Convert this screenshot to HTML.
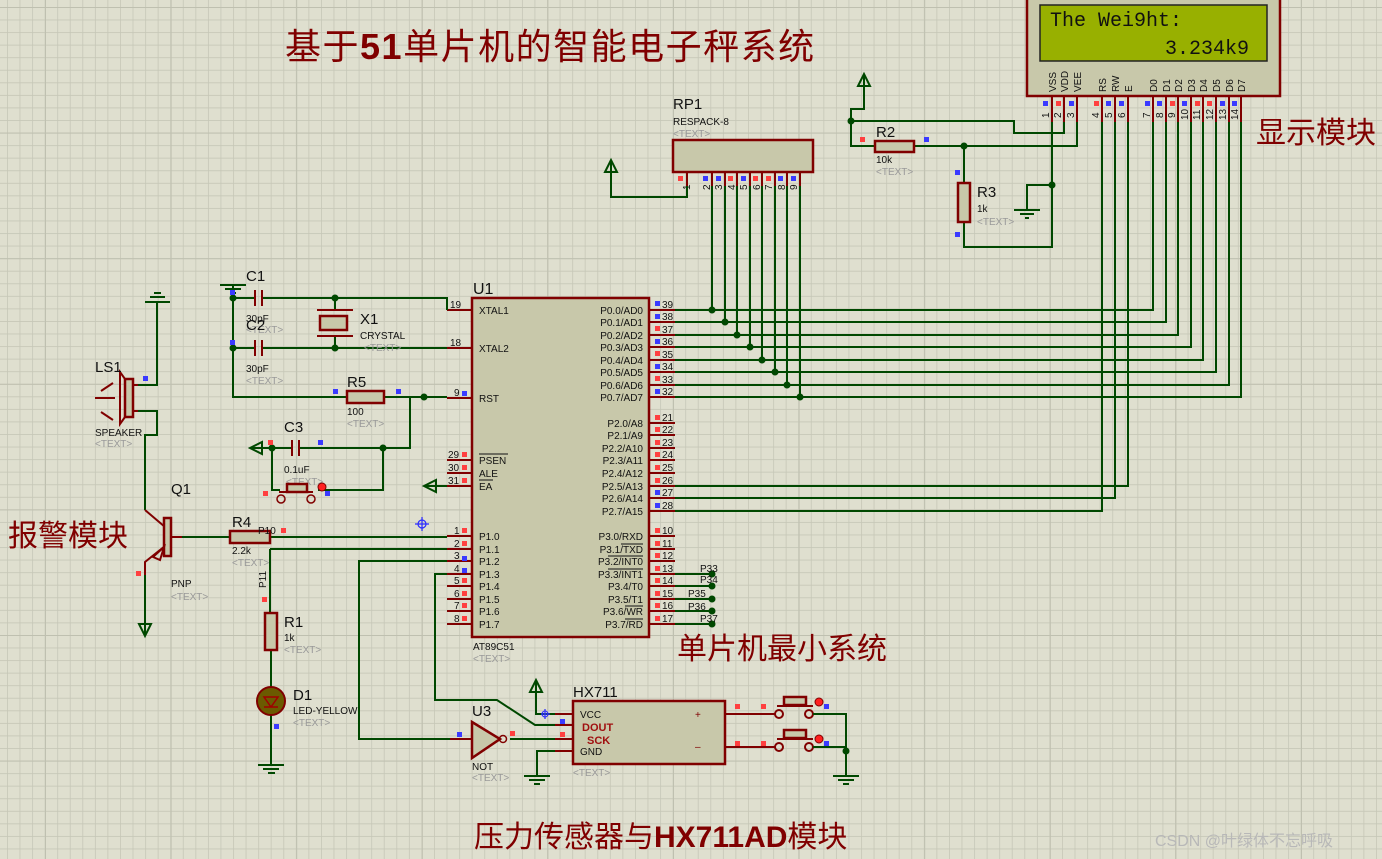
<!DOCTYPE html>
<html><head><meta charset="utf-8"><style>
html,body{margin:0;padding:0;background:#dfdfcf}
svg{display:block}
text{font-family:"Liberation Sans","Noto Sans CJK SC",sans-serif}
.t{font-size:10px;fill:#111}
.g{font-size:10px;fill:#999}
.L{font-size:15px;fill:#111}
.cn{fill:#800000;font-family:"Liberation Sans","Noto Sans CJK SC",sans-serif}
.mono{font-family:"Liberation Mono",monospace;font-size:20px;fill:#111}
.w{stroke:#004800;stroke-width:2;fill:none}
.p{stroke:#800000;stroke-width:2;fill:none}
.b{stroke:#800000;stroke-width:2.5;fill:#c8c8aa}
.d{fill:#004800}
.r{fill:#ff4040}.u{fill:#3a3aff}
</style></head><body>
<svg width="1382" height="859" viewBox="0 0 1382 859" xmlns="http://www.w3.org/2000/svg">
<defs>
<pattern id="gm" x="7" y="7" width="12.56" height="12.56" patternUnits="userSpaceOnUse"><path d="M0 0H12.56M0 0V12.56" stroke="#c6c7b7" stroke-width="1.6"/></pattern>
<pattern id="gM" x="45" y="7" width="125.6" height="125.6" patternUnits="userSpaceOnUse"><path d="M0 0H125.6M0 0V125.6" stroke="#bfc0b0" stroke-width="2"/></pattern>
</defs>
<rect width="1382" height="859" fill="#dfdfcf"/>
<rect width="1382" height="859" fill="url(#gm)"/>
<rect width="1382" height="859" fill="url(#gM)"/>

<!-- titles -->
<text x="285" y="59" class="cn" font-size="36" letter-spacing="1.5">基于<tspan font-weight="bold">51</tspan>单片机的智能电子秤系统</text>
<text x="1256" y="143" class="cn" font-size="30">显示模块</text>
<text x="8" y="546" class="cn" font-size="30">报警模块</text>
<text x="677" y="659" class="cn" font-size="30">单片机最小系统</text>
<text x="474" y="847" class="cn" font-size="30">压力传感器与<tspan font-weight="bold">HX711AD</tspan>模块</text>
<text x="1155" y="846" font-size="16" fill="#b8b8b8">CSDN @叶绿体不忘呼吸</text>

<!-- LCD -->
<rect x="1027" y="-5" width="253" height="101" class="b"/>
<rect x="1040" y="5" width="227" height="56" fill="#98b000" stroke="#222" stroke-width="1.5"/>
<text x="1050" y="26" class="mono">The Wei9ht:</text>
<text x="1165" y="54" class="mono">3.234k9</text>
<g font-size="10" fill="#111">
<text transform="translate(1056,92) rotate(-90)">VSS</text><text transform="translate(1068,92) rotate(-90)">VDD</text><text transform="translate(1081,92) rotate(-90)">VEE</text>
<text transform="translate(1106,92) rotate(-90)">RS</text><text transform="translate(1119,92) rotate(-90)">RW</text><text transform="translate(1132,92) rotate(-90)">E</text>
<text transform="translate(1157,92) rotate(-90)">D0</text><text transform="translate(1170,92) rotate(-90)">D1</text><text transform="translate(1182,92) rotate(-90)">D2</text><text transform="translate(1195,92) rotate(-90)">D3</text><text transform="translate(1207,92) rotate(-90)">D4</text><text transform="translate(1220,92) rotate(-90)">D5</text><text transform="translate(1233,92) rotate(-90)">D6</text><text transform="translate(1245,92) rotate(-90)">D7</text>
<text transform="translate(1049,118) rotate(-90)">1</text><text transform="translate(1061,118) rotate(-90)">2</text><text transform="translate(1074,118) rotate(-90)">3</text><text transform="translate(1099,118) rotate(-90)">4</text><text transform="translate(1112,118) rotate(-90)">5</text><text transform="translate(1125,118) rotate(-90)">6</text><text transform="translate(1150,118) rotate(-90)">7</text><text transform="translate(1163,118) rotate(-90)">8</text><text transform="translate(1175,118) rotate(-90)">9</text><text transform="translate(1188,120) rotate(-90)">10</text><text transform="translate(1200,120) rotate(-90)">11</text><text transform="translate(1213,120) rotate(-90)">12</text><text transform="translate(1226,120) rotate(-90)">13</text><text transform="translate(1238,120) rotate(-90)">14</text>
</g>
<path class="p" d="M1052 96V122M1064 96V122M1077 96V122M1102 96V122M1115 96V122M1128 96V122M1153 96V122M1166 96V122M1178 96V122M1191 96V122M1203 96V122M1216 96V122M1229 96V122M1241 96V122"/>
<g class="u"><rect x="1043" y="101" width="5" height="5"/><rect x="1069" y="101" width="5" height="5"/><rect x="1106" y="101" width="5" height="5"/><rect x="1119" y="101" width="5" height="5"/><rect x="1145" y="101" width="5" height="5"/><rect x="1157" y="101" width="5" height="5"/><rect x="1182" y="101" width="5" height="5"/><rect x="1220" y="101" width="5" height="5"/><rect x="1232" y="101" width="5" height="5"/></g>
<g class="r"><rect x="1056" y="101" width="5" height="5"/><rect x="1094" y="101" width="5" height="5"/><rect x="1170" y="101" width="5" height="5"/><rect x="1195" y="101" width="5" height="5"/><rect x="1207" y="101" width="5" height="5"/></g>

<!-- LCD data wires -->
<path class="w" d="M675 310H1153V122M675 322H1166V122M675 335H1178V122M675 347H1191V122M675 360H1203V122M675 372H1216V122M675 385H1229V122M675 397H1241V122"/>
<path class="w" d="M675 486H1128V122M675 498H1115V122M675 511H1102V122"/>

<!-- RP1 -->
<text x="673" y="109" class="L">RP1</text><text x="673" y="125" class="t">RESPACK-8</text><text x="673" y="137" class="g">&lt;TEXT&gt;</text>
<rect x="673" y="140" width="140" height="32" class="b"/>
<path class="p" d="M687 172V186M712 172V186M725 172V186M737 172V186M750 172V186M762 172V186M775 172V186M787 172V186M800 172V186"/>
<g font-size="10" fill="#111"><text transform="translate(690,190) rotate(-90)">1</text><text transform="translate(710,190) rotate(-90)">2</text><text transform="translate(722,190) rotate(-90)">3</text><text transform="translate(735,190) rotate(-90)">4</text><text transform="translate(747,190) rotate(-90)">5</text><text transform="translate(760,190) rotate(-90)">6</text><text transform="translate(772,190) rotate(-90)">7</text><text transform="translate(785,190) rotate(-90)">8</text><text transform="translate(797,190) rotate(-90)">9</text></g>
<g class="r"><rect x="678" y="176" width="5" height="5"/><rect x="728" y="176" width="5" height="5"/><rect x="753" y="176" width="5" height="5"/><rect x="766" y="176" width="5" height="5"/></g>
<g class="u"><rect x="703" y="176" width="5" height="5"/><rect x="716" y="176" width="5" height="5"/><rect x="741" y="176" width="5" height="5"/><rect x="778" y="176" width="5" height="5"/><rect x="791" y="176" width="5" height="5"/></g>
<path class="w" d="M712 186V310M725 186V322M737 186V335M750 186V347M762 186V360M775 186V372M787 186V385M800 186V397"/>
<path class="w" d="M687 186V197H611V160"/>
<path class="w" d="M605 172L611 160L617 172Z"/>
<g class="d"><circle cx="712" cy="310" r="3.5"/><circle cx="725" cy="322" r="3.5"/><circle cx="737" cy="335" r="3.5"/><circle cx="750" cy="347" r="3.5"/><circle cx="762" cy="360" r="3.5"/><circle cx="775" cy="372" r="3.5"/><circle cx="787" cy="385" r="3.5"/><circle cx="800" cy="397" r="3.5"/></g>

<!-- R2 R3 -->
<path class="w" d="M864 74V109H851V146H875M851 121H1014V133H1064V122M914 146H1077V122M964 146V183M964 222V247H1052V122M1052 185H1027V210"/>
<path class="w" d="M858 86L864 74L870 86Z"/>
<path class="w" d="M1014 210H1040M1020 214H1034M1025 218H1029"/>
<rect x="875" y="141" width="39" height="11" class="b"/>
<rect x="958" y="183" width="12" height="39" class="b"/>
<g class="d"><circle cx="851" cy="121" r="3.5"/><circle cx="964" cy="146" r="3.5"/><circle cx="1052" cy="185" r="3.5"/></g>
<text x="876" y="137" class="L">R2</text><text x="876" y="163" class="t">10k</text><text x="876" y="175" class="g">&lt;TEXT&gt;</text>
<text x="977" y="197" class="L">R3</text><text x="977" y="212" class="t">1k</text><text x="977" y="225" class="g">&lt;TEXT&gt;</text>
<rect x="860" y="137" width="5" height="5" class="r"/><rect x="924" y="137" width="5" height="5" class="u"/>
<rect x="955" y="170" width="5" height="5" class="u"/><rect x="955" y="232" width="5" height="5" class="u"/>

<!-- U1 -->
<text x="473" y="294" font-size="16" fill="#111">U1</text>
<rect x="472" y="298" width="177" height="339" class="b"/>
<text x="473" y="650" class="t">AT89C51</text><text x="473" y="662" class="g">&lt;TEXT&gt;</text>
<path class="p" d="M649 310H675M649 322H675M649 335H675M649 347H675M649 360H675M649 372H675M649 385H675M649 397H675M649 423H675M649 435H675M649 448H675M649 460H675M649 473H675M649 486H675M649 498H675M649 511H675M649 536H675M649 549H675M649 561H675M649 574H675M649 586H675M649 599H675M649 611H675M649 624H675"/>
<path class="p" d="M447 310H472M447 348H472M447 398H472M447 460H472M447 473H472M447 486H472M447 536H472M447 549H472M447 561H472M447 574H472M447 586H472M447 599H472M447 611H472M447 624H472"/>
<g font-size="10" fill="#111" text-anchor="end">
<text x="643" y="314">P0.0/AD0</text><text x="643" y="326">P0.1/AD1</text><text x="643" y="339">P0.2/AD2</text><text x="643" y="351">P0.3/AD3</text><text x="643" y="364">P0.4/AD4</text><text x="643" y="376">P0.5/AD5</text><text x="643" y="389">P0.6/AD6</text><text x="643" y="401">P0.7/AD7</text>
<text x="643" y="427">P2.0/A8</text><text x="643" y="439">P2.1/A9</text><text x="643" y="452">P2.2/A10</text><text x="643" y="464">P2.3/A11</text><text x="643" y="477">P2.4/A12</text><text x="643" y="490">P2.5/A13</text><text x="643" y="502">P2.6/A14</text><text x="643" y="515">P2.7/A15</text>
<text x="643" y="540">P3.0/RXD</text><text x="643" y="553">P3.1/TXD</text><text x="643" y="565">P3.2/INT0</text><text x="643" y="578">P3.3/INT1</text><text x="643" y="590">P3.4/T0</text><text x="643" y="603">P3.5/T1</text><text x="643" y="615">P3.6/WR</text><text x="643" y="628">P3.7/RD</text>
</g>
<path d="M621 544H643M608 556H643M608 569H643M625 606H643M625 619H643" stroke="#111" stroke-width="1"/>
<path d="M479 454H508M479 480H493" stroke="#111" stroke-width="1"/>
<g font-size="10" fill="#111">
<text x="479" y="314">XTAL1</text><text x="479" y="352">XTAL2</text><text x="479" y="402">RST</text><text x="479" y="464">PSEN</text><text x="479" y="477">ALE</text><text x="479" y="490">EA</text>
<text x="479" y="540">P1.0</text><text x="479" y="553">P1.1</text><text x="479" y="565">P1.2</text><text x="479" y="578">P1.3</text><text x="479" y="590">P1.4</text><text x="479" y="603">P1.5</text><text x="479" y="615">P1.6</text><text x="479" y="628">P1.7</text>
<text x="662" y="308">39</text><text x="662" y="320">38</text><text x="662" y="333">37</text><text x="662" y="345">36</text><text x="662" y="358">35</text><text x="662" y="370">34</text><text x="662" y="383">33</text><text x="662" y="395">32</text>
<text x="662" y="421">21</text><text x="662" y="433">22</text><text x="662" y="446">23</text><text x="662" y="458">24</text><text x="662" y="471">25</text><text x="662" y="484">26</text><text x="662" y="496">27</text><text x="662" y="509">28</text>
<text x="662" y="534">10</text><text x="662" y="547">11</text><text x="662" y="559">12</text><text x="662" y="572">13</text><text x="662" y="584">14</text><text x="662" y="597">15</text><text x="662" y="609">16</text><text x="662" y="622">17</text>
<text x="450" y="308">19</text><text x="450" y="346">18</text><text x="454" y="396">9</text><text x="448" y="458">29</text><text x="448" y="471">30</text><text x="448" y="484">31</text>
<text x="454" y="534">1</text><text x="454" y="547">2</text><text x="454" y="559">3</text><text x="454" y="572">4</text><text x="454" y="584">5</text><text x="454" y="597">6</text><text x="454" y="609">7</text><text x="454" y="622">8</text>
</g>
<g class="u"><rect x="655" y="301" width="5" height="5"/><rect x="655" y="314" width="5" height="5"/><rect x="655" y="339" width="5" height="5"/><rect x="655" y="364" width="5" height="5"/><rect x="655" y="389" width="5" height="5"/><rect x="655" y="490" width="5" height="5"/><rect x="655" y="503" width="5" height="5"/><rect x="462" y="391" width="5" height="5"/><rect x="462" y="556" width="5" height="5"/><rect x="462" y="568" width="5" height="5"/></g>
<g class="r"><rect x="655" y="326" width="5" height="5"/><rect x="655" y="351" width="5" height="5"/><rect x="655" y="376" width="5" height="5"/><rect x="655" y="415" width="5" height="5"/><rect x="655" y="427" width="5" height="5"/><rect x="655" y="440" width="5" height="5"/><rect x="655" y="452" width="5" height="5"/><rect x="655" y="465" width="5" height="5"/><rect x="655" y="478" width="5" height="5"/><rect x="655" y="528" width="5" height="5"/><rect x="655" y="541" width="5" height="5"/><rect x="655" y="553" width="5" height="5"/><rect x="655" y="566" width="5" height="5"/><rect x="655" y="578" width="5" height="5"/><rect x="655" y="591" width="5" height="5"/><rect x="655" y="603" width="5" height="5"/><rect x="655" y="616" width="5" height="5"/>
<rect x="462" y="452" width="5" height="5"/><rect x="462" y="465" width="5" height="5"/><rect x="462" y="478" width="5" height="5"/><rect x="462" y="528" width="5" height="5"/><rect x="462" y="541" width="5" height="5"/><rect x="462" y="578" width="5" height="5"/><rect x="462" y="591" width="5" height="5"/><rect x="462" y="603" width="5" height="5"/><rect x="462" y="616" width="5" height="5"/></g>
<!-- P3 stubs -->
<path class="w" d="M675 574H712M675 586H712M675 599H712M675 611H712M675 624H712"/>
<g class="d"><circle cx="712" cy="574" r="3.5"/><circle cx="712" cy="586" r="3.5"/><circle cx="712" cy="599" r="3.5"/><circle cx="712" cy="611" r="3.5"/><circle cx="712" cy="624" r="3.5"/></g>
<g font-size="10" fill="#111"><text x="700" y="572">P33</text><text x="700" y="583">P34</text><text x="688" y="597">P35</text><text x="688" y="610">P36</text><text x="700" y="622">P37</text></g>
<path d="M415 524H429M422 517V531" stroke="#2a2aff" stroke-width="1.2"/><circle cx="422" cy="524" r="4" fill="none" stroke="#2a2aff" stroke-width="1.2"/>

<!-- crystal & caps -->
<path class="w" d="M220 285H246M225 289H241M230 293H236M233 285V397H347M233 298H255M262 298H447V310M233 348H255M262 348H447M335 298V310M335 336V348M384 397H447M410 397V448H299M292 448H272V490H280M318 490H383V448M272 448H250M447 486H424"/>
<path class="p" d="M255 290V306M262 290V306M255 340V356M262 340V356M292 440V456M299 440V456M317 310H353M317 336H353"/>
<rect x="320" y="316" width="27" height="14" class="b"/>
<path class="w" d="M250 448L262 442V454Z M424 486L436 480V492Z"/>
<g class="d"><circle cx="233" cy="298" r="3.5"/><circle cx="335" cy="298" r="3.5"/><circle cx="233" cy="348" r="3.5"/><circle cx="335" cy="348" r="3.5"/><circle cx="424" cy="397" r="3.5"/><circle cx="272" cy="448" r="3.5"/><circle cx="383" cy="448" r="3.5"/></g>
<rect x="347" y="391" width="37" height="12" class="b"/>
<text x="246" y="281" class="L">C1</text><text x="246" y="322" class="t">30pF</text><text x="246" y="333" class="g">&lt;TEXT&gt;</text>
<text x="246" y="330" class="L">C2</text><text x="246" y="372" class="t">30pF</text><text x="246" y="384" class="g">&lt;TEXT&gt;</text>
<text x="360" y="324" class="L">X1</text><text x="360" y="339" class="t">CRYSTAL</text><text x="364" y="351" class="g">&lt;TEXT&gt;</text>
<text x="347" y="387" class="L">R5</text><text x="347" y="415" class="t">100</text><text x="347" y="427" class="g">&lt;TEXT&gt;</text>
<text x="284" y="432" class="L">C3</text><text x="284" y="473" class="t">0.1uF</text><text x="286" y="485" class="g">&lt;TEXT&gt;</text>
<g class="p"><circle cx="281" cy="499" r="4" stroke-width="1.5"/><circle cx="311" cy="499" r="4" stroke-width="1.5"/></g>
<path d="M279 492H313" stroke="#800000" stroke-width="2"/><rect x="287" y="484" width="20" height="8" class="b" stroke-width="1.5"/>
<circle cx="322" cy="487" r="4" fill="#ff2020" stroke="#800000"/>
<rect x="230" y="290" width="5" height="5" class="u"/><rect x="230" y="340" width="5" height="5" class="u"/><rect x="333" y="389" width="5" height="5" class="u"/><rect x="396" y="389" width="5" height="5" class="u"/>
<rect x="268" y="440" width="5" height="5" class="r"/><rect x="318" y="440" width="5" height="5" class="u"/><rect x="263" y="491" width="5" height="5" class="r"/><rect x="325" y="491" width="5" height="5" class="u"/>

<!-- speaker & Q1 -->
<path class="w" d="M145 302H170M150 297H165M154 293H161M157 302V385H138M138 411H157V435H145V510"/>
<path class="p" d="M130 385V411M138 385H133M138 411H133"/>
<rect x="125" y="379" width="8" height="38" class="b" stroke-width="2"/>
<path class="p" d="M125 379L120 372V424L125 417M95 398H115M101 391L113 383M101 412L113 420" stroke-width="1.5"/>
<text x="95" y="372" class="L">LS1</text><text x="95" y="436" class="t">SPEAKER</text><text x="95" y="447" class="g">&lt;TEXT&gt;</text>
<rect x="143" y="376" width="5" height="5" class="u"/>
<path class="p" d="M145 510L165 527M165 546L145 562V575M170 537H182"/>
<rect x="164" y="518" width="7" height="38" class="b" stroke-width="2"/>
<path class="p" d="M153 557L164 547L160 560Z" stroke-width="1.5"/>
<path class="w" d="M145 575V635M182 537H230M270 537H447M270 549H447M270 549V613M271 650V690M271 715V765M258 765H284M263 769H279M268 773H275"/>
<path class="w" d="M139 624L145 636L151 624Z"/>
<rect x="230" y="531" width="40" height="12" class="b"/>
<rect x="265" y="613" width="12" height="37" class="b"/>
<text x="171" y="494" class="L">Q1</text><text x="171" y="587" class="t">PNP</text><text x="171" y="600" class="g">&lt;TEXT&gt;</text>
<text x="232" y="527" class="L">R4</text><text x="258" y="534" font-size="10" fill="#111">P10</text><text x="232" y="554" class="t">2.2k</text><text x="232" y="566" class="g">&lt;TEXT&gt;</text>
<text transform="translate(266,588) rotate(-90)" font-size="10" fill="#111">P11</text>
<text x="284" y="627" class="L">R1</text><text x="284" y="641" class="t">1k</text><text x="284" y="653" class="g">&lt;TEXT&gt;</text>
<circle cx="271" cy="701" r="14" fill="#6b5a00" stroke="#800000" stroke-width="2"/>
<path d="M264 697H278L271 707ZM264 707H278" fill="none" stroke="#a00000" stroke-width="1.5"/>
<text x="293" y="700" class="L">D1</text><text x="293" y="714" class="t">LED-YELLOW</text><text x="293" y="726" class="g">&lt;TEXT&gt;</text>
<rect x="136" y="571" width="5" height="5" class="r"/><rect x="281" y="528" width="5" height="5" class="r"/><rect x="262" y="597" width="5" height="5" class="r"/><rect x="274" y="724" width="5" height="5" class="u"/>

<!-- HX711 area -->
<path class="w" d="M447 561H359V739H450M447 574H435V700H497L535 725H555M536 680V714H555M555 751H537V776M524 776H550M529 780H545M534 784H540M510 739H555"/>
<path class="w" d="M530 692L536 680L542 692Z"/>
<path class="p" d="M450 739H472M555 714H573M555 725H573M555 739H573M555 751H573M725 714H775M725 747H775"/>
<path d="M472 722L500 739L472 758Z" class="b" stroke-width="2"/><circle cx="503" cy="739" r="3.5" fill="none" stroke="#800000" stroke-width="1.5"/>
<text x="472" y="716" class="L">U3</text><text x="472" y="770" class="t">NOT</text><text x="472" y="781" class="g">&lt;TEXT&gt;</text>
<rect x="573" y="701" width="152" height="63" class="b"/>
<text x="573" y="697" class="L">HX711</text>
<text x="580" y="718" font-size="10" fill="#111">VCC</text>
<text x="582" y="731" font-size="11" font-weight="bold" fill="#a01010">DOUT</text>
<text x="587" y="744" font-size="11" font-weight="bold" fill="#a01010">SCK</text>
<text x="580" y="755" font-size="10" fill="#111">GND</text>
<text x="695" y="718" font-size="10" fill="#800000">+</text><text x="695" y="750" font-size="10" fill="#800000">–</text>
<text x="573" y="776" class="g">&lt;TEXT&gt;</text>
<rect x="457" y="732" width="5" height="5" class="u"/><rect x="510" y="731" width="5" height="5" class="r"/><rect x="560" y="719" width="5" height="5" class="u"/><rect x="560" y="732" width="5" height="5" class="r"/>
<path d="M541 714H550M545 709V719" stroke="#2a2aff" stroke-width="1.2"/><circle cx="545" cy="714" r="3" fill="none" stroke="#2a2aff"/>
<g class="p" stroke-width="1.5"><circle cx="779" cy="714" r="4"/><circle cx="809" cy="714" r="4"/><circle cx="779" cy="747" r="4"/><circle cx="809" cy="747" r="4"/></g>
<path d="M777 706H813M777 739H813" stroke="#800000" stroke-width="2"/>
<rect x="784" y="697" width="22" height="8" class="b" stroke-width="1.5"/><rect x="784" y="730" width="22" height="8" class="b" stroke-width="1.5"/>
<circle cx="819" cy="702" r="4" fill="#ff2020" stroke="#800000"/><circle cx="819" cy="739" r="4" fill="#ff2020" stroke="#800000"/>
<path class="w" d="M813 714H846V776M813 747H846M833 776H859M838 780H854M843 784H849"/>
<circle cx="846" cy="751" r="3.5" class="d"/>
<rect x="735" y="704" width="5" height="5" class="r"/><rect x="761" y="704" width="5" height="5" class="r"/><rect x="735" y="741" width="5" height="5" class="r"/><rect x="761" y="741" width="5" height="5" class="r"/>
<rect x="824" y="704" width="5" height="5" class="u"/><rect x="824" y="741" width="5" height="5" class="u"/>
</svg>
</body></html>
